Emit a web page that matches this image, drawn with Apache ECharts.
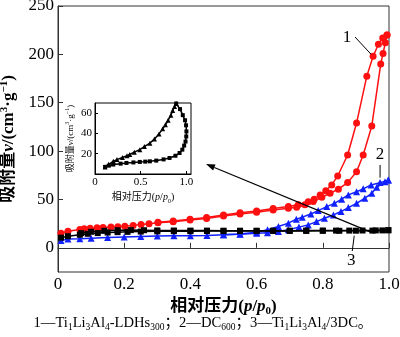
<!DOCTYPE html>
<html>
<head>
<meta charset="utf-8">
<script src="https://cdn.jsdelivr.net/npm/echarts@6/dist/echarts.min.js"></script>
<style>
  html, body { margin: 0; padding: 0; background: #fff; }
  #chart { width: 400px; height: 337px; }
</style>
</head>
<body>
<div id="chart"></div>
<script>
// N2 adsorption / desorption isotherms, [p/p0, v (cm3/g)]
const redAdsorption = [
  [0.009, 15.0], [0.03, 17.2], [0.066, 19.0], [0.079, 19.8], [0.097, 20.2], [0.118, 20.7],
  [0.136, 21.1], [0.16, 21.5], [0.181, 21.9], [0.202, 22.4], [0.227, 23.2], [0.251, 24.1],
  [0.275, 25.0], [0.302, 26.0], [0.348, 27.0], [0.399, 28.8], [0.449, 30.2], [0.5, 32.8],
  [0.55, 35.0], [0.6, 36.8], [0.65, 39.0], [0.696, 41.0], [0.721, 42.0], [0.746, 44.4],
  [0.771, 47.8], [0.797, 52.3], [0.822, 56.4], [0.847, 60.6], [0.875, 67.4], [0.902, 78.7],
  [0.922, 96.0], [0.948, 126.0], [0.975, 190.0], [0.982, 201.0], [0.989, 212.0], [0.994, 220.0]
];
const redDesorption = [
  [0.994, 220.0], [0.981, 217.0], [0.968, 210.5], [0.952, 198.0], [0.933, 177.5], [0.902, 129.0],
  [0.875, 96.0], [0.845, 74.3], [0.827, 65.0], [0.809, 59.0], [0.792, 54.7], [0.774, 50.3],
  [0.756, 47.5], [0.726, 44.5], [0.696, 42.8], [0.65, 40.6], [0.6, 38.0], [0.55, 36.3],
  [0.5, 34.0], [0.449, 31.3], [0.399, 29.6], [0.348, 27.8], [0.302, 26.5]
];
const blueAdsorption = [
  [0.009, 7.5], [0.03, 9.0], [0.066, 9.3], [0.1, 10.0], [0.15, 10.6], [0.2, 11.2], [0.25, 11.7],
  [0.3, 12.2], [0.35, 12.4], [0.4, 12.6], [0.45, 12.8], [0.5, 13.4], [0.55, 14.0], [0.6, 15.0],
  [0.633, 15.5], [0.666, 16.8], [0.696, 18.6], [0.728, 21.4], [0.756, 23.7], [0.781, 27.1],
  [0.805, 30.6], [0.832, 34.0], [0.855, 37.5], [0.877, 41.6], [0.902, 46.0], [0.927, 51.3],
  [0.948, 56.4], [0.963, 62.6], [0.988, 68.4], [0.998, 70.0]
];
const blueDesorption = [
  [0.998, 70.0], [0.973, 67.4], [0.946, 65.0], [0.922, 61.0], [0.902, 58.0], [0.877, 54.7],
  [0.857, 50.3], [0.835, 46.0], [0.812, 42.6], [0.786, 38.5], [0.764, 35.0], [0.738, 31.7],
  [0.72, 29.6], [0.696, 25.5], [0.666, 22.0], [0.633, 18.6], [0.6, 16.2], [0.55, 14.3], [0.5, 13.6]
];
const blackAdsorption = [
  [0.009, 10.5], [0.03, 12.0], [0.066, 13.5], [0.09, 14.5], [0.12, 15.2], [0.15, 15.8],
  [0.18, 16.2], [0.21, 16.5], [0.25, 16.8], [0.3, 17.0], [0.35, 17.2], [0.4, 17.2],
  [0.45, 17.3], [0.5, 17.3], [0.55, 17.4], [0.6, 17.4], [0.65, 17.5], [0.7, 17.5],
  [0.75, 17.5], [0.8, 17.6], [0.85, 17.6], [0.9, 17.7], [0.95, 17.8], [0.98, 18.0], [0.998, 18.2]
];
const blackDesorption = [
  [0.998, 18.2], [0.96, 18.0], [0.92, 17.9], [0.88, 17.8], [0.84, 17.8], [0.8, 17.8],
  [0.75, 17.8], [0.7, 17.7], [0.65, 17.7], [0.6, 17.7], [0.55, 17.7], [0.5, 17.7],
  [0.45, 17.8], [0.4, 17.8], [0.35, 17.9], [0.3, 18.0], [0.26, 18.2], [0.22, 18.3],
  [0.18, 18.2], [0.14, 17.6], [0.1, 16.6], [0.07, 15.2]
];
// Inset: magnified loop of sample 3
const insetUpper = [
  [0.11, 7.0], [0.15, 9.5], [0.2, 12.5], [0.24, 14.2], [0.3, 16.2], [0.35, 18.0], [0.38, 19.2],
  [0.43, 21.5], [0.49, 24.0], [0.54, 27.0], [0.6, 30.4], [0.65, 34.5], [0.7, 39.5], [0.74, 44.5],
  [0.77, 48.5], [0.8, 53.0], [0.83, 58.0], [0.85, 62.5], [0.87, 66.5], [0.888, 69.5]
];
const insetLower = [
  [0.888, 69.5], [0.93, 64.0], [0.96, 58.0], [0.985, 53.0], [0.996, 48.0], [1.0, 42.0],
  [0.998, 37.0], [0.99, 32.0], [0.975, 28.0], [0.955, 24.0], [0.925, 20.7], [0.88, 18.0],
  [0.815, 15.8], [0.75, 14.4], [0.67, 13.2], [0.6, 12.5], [0.55, 12.2], [0.49, 11.9],
  [0.42, 11.4], [0.344, 10.9], [0.28, 10.2], [0.2, 9.3], [0.15, 8.2], [0.11, 7.0]
];

const mainXTicks = [0, 0.2, 0.4, 0.6, 0.8, 1.0];
const mainYTicks = [0, 50, 100, 150, 200, 250];
const insetXTicks = [0, 0.5, 1.0];
const insetYTicks = [20, 40, 60];
const curveLabels = ['1', '2', '3'];

const SERIF = '"Liberation Serif", "Noto Sans CJK SC", serif';
const fmt = v => (v === 0 ? '0' : v.toFixed(1));

function richSet(size, bold) {
  const w = bold ? 'bold' : 'normal';
  return {
    b: { fontFamily: SERIF, fontSize: size, fontWeight: w, color: '#000', lineHeight: size + 4 },
    i: { fontFamily: SERIF, fontSize: size, fontWeight: w, fontStyle: 'italic', color: '#000', lineHeight: size + 4 },
    sub: { fontFamily: SERIF, fontSize: Math.round(size * 0.62), fontWeight: w, color: '#000',
           lineHeight: Math.round(size * 0.55), verticalAlign: 'bottom' },
    sup: { fontFamily: SERIF, fontSize: Math.round(size * 0.62), fontWeight: w, color: '#000',
           lineHeight: Math.round(size * 0.55), verticalAlign: 'top' }
  };
}

const yName = '{b|吸附量}{i|v}{b|/(cm}{sup|3}{b|·g}{sup|−1}{b|)}';
const xName = '{b|相对压力(}{i|p}{b|/}{i|p}{sub|0}{b|)}';

function seriesLine(data, color, symbol, size, xi, z) {
  return {
    type: 'line', data: data, xAxisIndex: xi, yAxisIndex: xi,
    symbol: symbol, symbolSize: size, showSymbol: true,
    lineStyle: { color: color, width: 1.5 },
    itemStyle: { color: color },
    z: z, silent: true, animation: false
  };
}

const chart = echarts.init(document.getElementById('chart'), null, { renderer: 'canvas' });

const option = {
  animation: false,
  backgroundColor: '#fff',
  grid: [
    { left: 58, top: 6, right: 11, bottom: 65, outerBoundsMode: 'none', containLabel: false,
      show: true, borderColor: '#333', borderWidth: 1 },
    { left: 95, top: 103, width: 96, height: 71, outerBoundsMode: 'none', containLabel: false,
      show: true, borderColor: '#000', borderWidth: 1, backgroundColor: '#fff', z: 5 }
  ],
  xAxis: [
    {
      type: 'value', gridIndex: 0, min: 0, max: 1,
      axisLine: { lineStyle: { color: '#333' } },
      axisTick: { inside: true, length: 5, customValues: mainXTicks, lineStyle: { color: '#333' } },
      axisLabel: { customValues: mainXTicks, formatter: fmt, fontFamily: SERIF, fontSize: 17, color: '#000', margin: 4 },
      splitLine: { show: false },
      name: xName, nameLocation: 'middle', nameGap: 21,
      nameTextStyle: { rich: richSet(17, true) }
    },
    {
      type: 'value', gridIndex: 1, min: 0, max: 1.05, z: 6,
      axisLine: { lineStyle: { color: '#000' } },
      axisTick: { inside: true, length: 3, customValues: insetXTicks, lineStyle: { color: '#000' } },
      axisLabel: { customValues: insetXTicks, formatter: fmt, fontFamily: SERIF, fontSize: 11, color: '#000', margin: 3 },
      splitLine: { show: false },
      name: xName, nameLocation: 'middle', nameGap: 16,
      nameTextStyle: { rich: richSet(10, false) }
    }
  ],
  yAxis: [
    {
      type: 'value', gridIndex: 0, min: -25, max: 250,
      axisLine: { lineStyle: { color: '#333' } },
      axisTick: { inside: true, length: 5, customValues: mainYTicks, lineStyle: { color: '#333' } },
      axisLabel: { customValues: mainYTicks, fontFamily: SERIF, fontSize: 17, color: '#000', margin: 4 },
      splitLine: { show: false },
      name: yName, nameLocation: 'middle', nameGap: 36, nameRotate: 90,
      nameTextStyle: { rich: richSet(17, true) }
    },
    {
      type: 'value', gridIndex: 1, min: 0, max: 70, z: 6,
      axisLine: { lineStyle: { color: '#000' } },
      axisTick: { inside: true, length: 3, customValues: insetYTicks, lineStyle: { color: '#000' } },
      axisLabel: { customValues: insetYTicks, fontFamily: SERIF, fontSize: 11, color: '#000', margin: 3 },
      splitLine: { show: false },
      name: yName, nameLocation: 'middle', nameGap: 18, nameRotate: 90,
      nameTextStyle: { rich: richSet(9, false) }
    }
  ],
  series: [
    seriesLine(redAdsorption, '#ff1010', 'circle', 7, 0, 3),
    seriesLine(redDesorption, '#ff1010', 'circle', 7, 0, 3),
    seriesLine(blueAdsorption, '#1020ff', 'triangle', 7, 0, 4),
    seriesLine(blueDesorption, '#1020ff', 'triangle', 7, 0, 4),
    seriesLine(blackAdsorption, '#000', 'rect', 6, 0, 5),
    seriesLine(blackDesorption, '#000', 'rect', 6, 0, 5),
    seriesLine(insetUpper, '#000', 'triangle', 5, 1, 8),
    seriesLine(insetLower, '#000', 'rect', 4, 1, 8)
  ]
};
chart.setOption(option);

// Curve numbers, leader lines, the arrow to the inset and the legend caption
function annotate() {
  const px = pt => chart.convertToPixel({ gridIndex: 0 }, pt);
  const p1 = px(redDesorption[3]);
  const p2 = px(blueDesorption[1]);
  const p3 = px([0.895, 17.7]);
  const a0 = px([0.943, 16.5]);
  const a1 = [206, 164];
  const ang = Math.atan2(a1[1] - a0[1], a1[0] - a0[0]);
  const L = 9, W = 3.2;
  const back = [a1[0] - L * Math.cos(ang), a1[1] - L * Math.sin(ang)];
  const head = [
    a1,
    [back[0] + W * Math.sin(ang), back[1] - W * Math.cos(ang)],
    [back[0] - W * Math.sin(ang), back[1] + W * Math.cos(ang)]
  ];
  const numStyle = { fontFamily: SERIF, fontSize: 17, fill: '#000', align: 'center', verticalAlign: 'middle' };
  const lineStyle = { stroke: '#000', lineWidth: 1 };
  const capRich = {
    t: { fontFamily: SERIF, fontSize: 14.6, color: '#000', lineHeight: 18 },
    s: { fontFamily: SERIF, fontSize: 9.5, color: '#000', lineHeight: 8, verticalAlign: 'bottom' }
  };
  const caption = '{t|1—Ti}{s|1}{t|Li}{s|3}{t|Al}{s|4}{t|-LDHs}{s|300}{t|；2—DC}{s|600}{t|；3—Ti}{s|1}{t|Li}{s|3}{t|Al}{s|4}{t|/3DC。}';
  chart.setOption({
    graphic: [
      { type: 'line', shape: { x1: p1[0] - 2, y1: p1[1] - 2, x2: 355, y2: 37 }, style: lineStyle, z: 20 },
      { type: 'text', x: 347, y: 38, style: Object.assign({ text: curveLabels[0] }, numStyle), z: 20 },
      { type: 'line', shape: { x1: p2[0], y1: p2[1] - 5, x2: p2[0], y2: 165 }, style: lineStyle, z: 20 },
      { type: 'text', x: p2[0], y: 155, style: Object.assign({ text: curveLabels[1] }, numStyle), z: 20 },
      { type: 'line', shape: { x1: p3[0], y1: p3[1] + 5, x2: p3[0] - 2, y2: 251 }, style: lineStyle, z: 20 },
      { type: 'text', x: p3[0] - 3, y: 261, style: Object.assign({ text: curveLabels[2] }, numStyle), z: 20 },
      { type: 'line', shape: { x1: a0[0], y1: a0[1], x2: back[0], y2: back[1] }, style: { stroke: '#000', lineWidth: 1.2 }, z: 20 },
      { type: 'polygon', shape: { points: head }, style: { fill: '#000' }, z: 20 },
      { type: 'text', x: 203, y: 323, style: { text: caption, rich: capRich, align: 'center', verticalAlign: 'middle' }, z: 20 }
    ]
  });
}
annotate();
</script>
</body>
</html>
